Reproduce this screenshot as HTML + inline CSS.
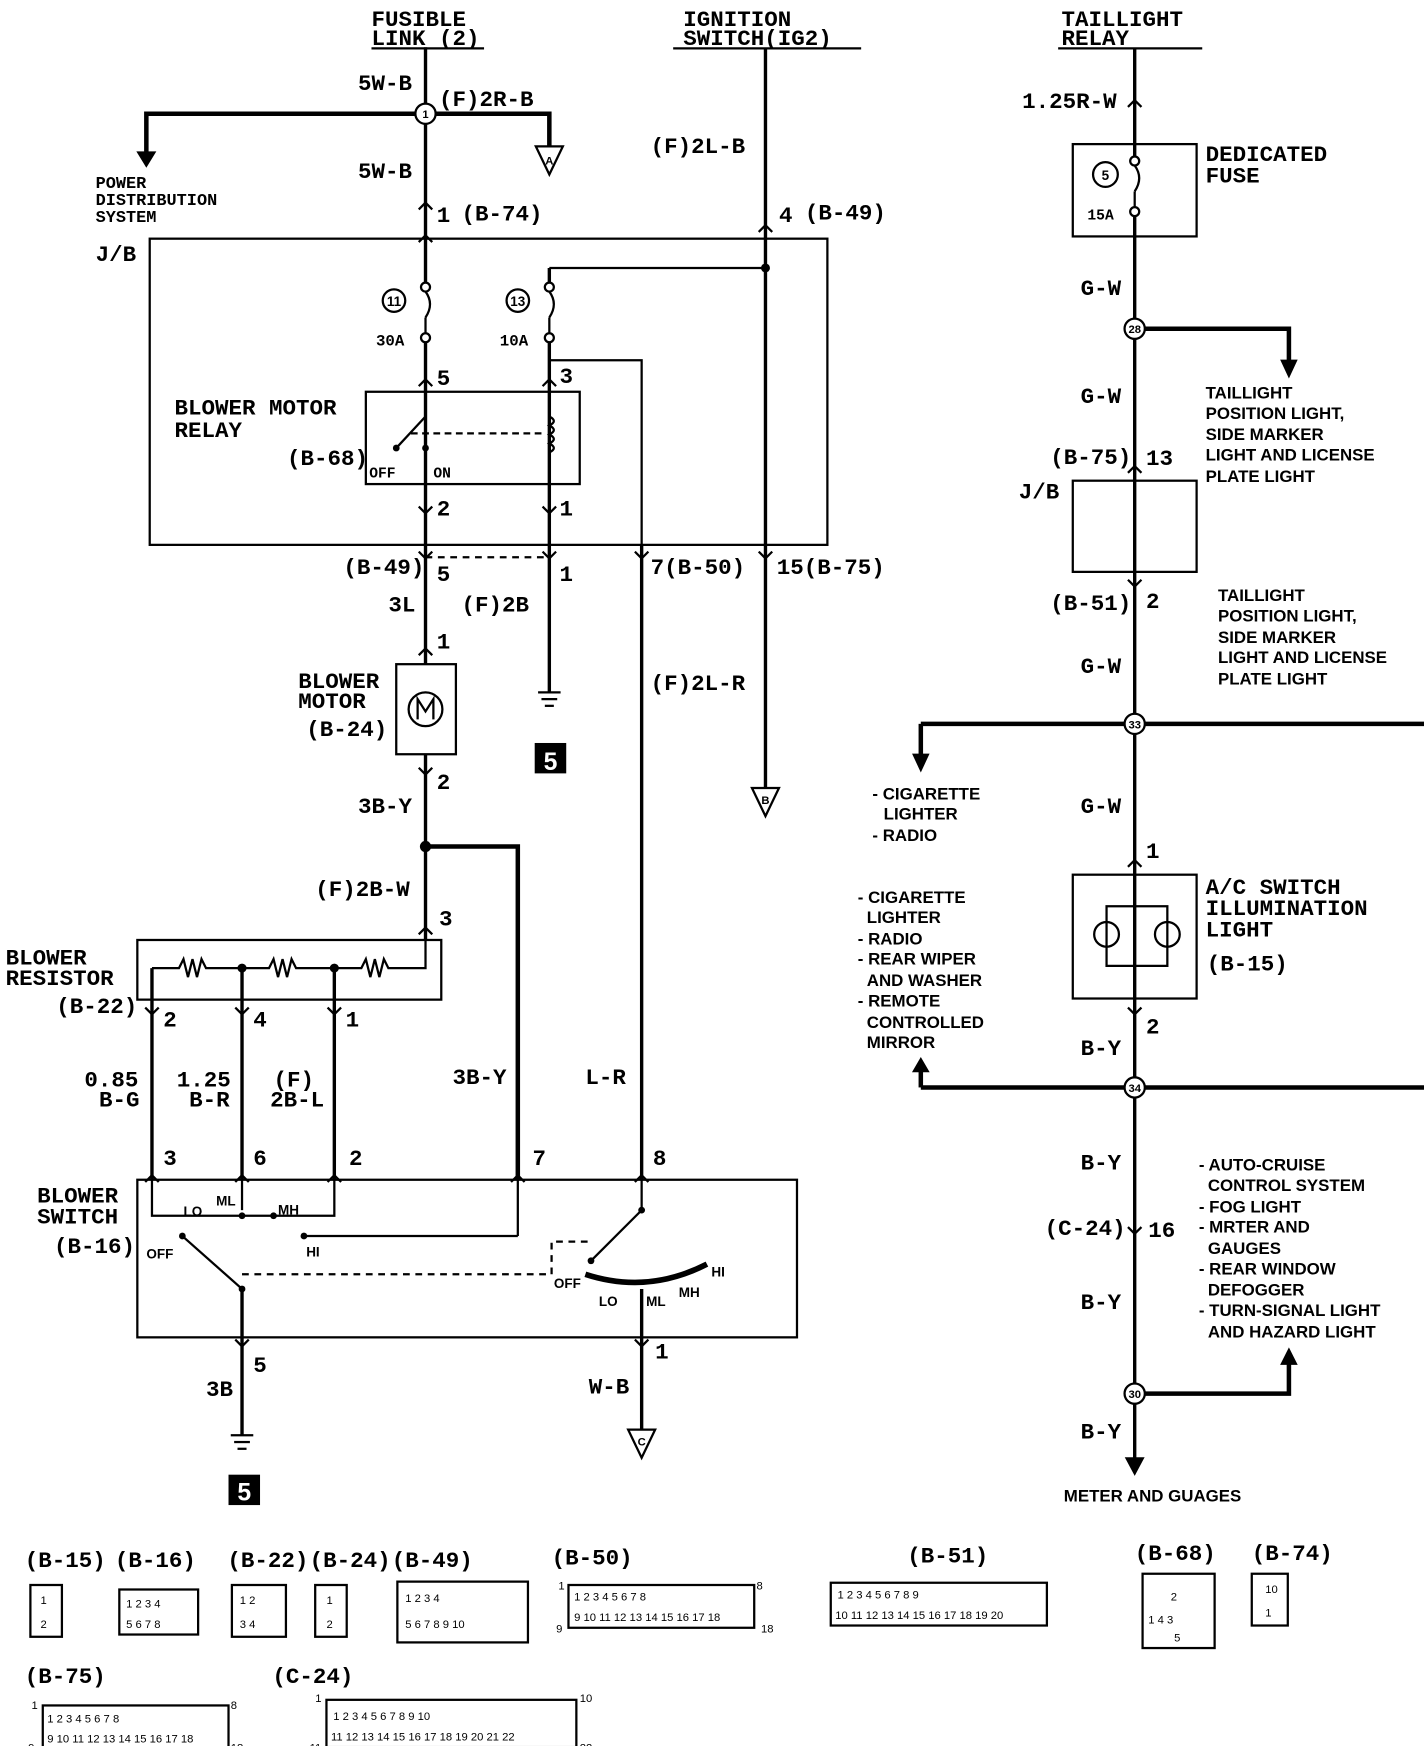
<!DOCTYPE html>
<html><head><meta charset="utf-8"><style>
html,body{margin:0;padding:0;background:#fff}
svg{display:block}
.m{font-family:"Liberation Mono",monospace;font-weight:bold;font-size:20px;fill:#000}
.s{font-family:"Liberation Sans",sans-serif;font-weight:bold;font-size:15px;fill:#000}
.t{font-family:"Liberation Sans",sans-serif;font-weight:bold;font-size:12px;fill:#000}
.c{font-family:"Liberation Sans",sans-serif;font-size:10px;fill:#000}
</style></head><body>
<svg width="1424" height="1746" viewBox="0 0 1265 1551" xmlns="http://www.w3.org/2000/svg">
<g stroke="#000" stroke-width="3" fill="none">
<line x1="378" y1="42" x2="378" y2="590"/>
<line x1="378" y1="670" x2="378" y2="835"/>
<polyline points="130,140 130,101 488,101 488,130" stroke-width="4"/>
<polygon points="122,135 138,135 130,148" fill="#000" stroke-width="1"/>
<polygon points="476,130 500,130 488,155" stroke-width="2"/>
<rect x="133" y="212" width="602" height="272" stroke-width="2"/>
<line x1="488" y1="238" x2="680" y2="238" stroke-width="2"/>
<line x1="488" y1="238" x2="488" y2="615"/>
<polyline points="488,320 570,320 570,1048" stroke-width="2"/>
<line x1="570" y1="484" x2="570" y2="1048"/>
<rect x="325" y="348" width="190" height="82" stroke-width="2"/>
<line x1="378" y1="495" x2="488" y2="495" stroke-dasharray="6,5" stroke-width="2"/>
<line x1="352" y1="398" x2="378" y2="370" stroke-width="2"/>
<line x1="365" y1="385" x2="485" y2="385" stroke-dasharray="6,4" stroke-width="2"/>
<rect x="352" y="590" width="53" height="80" stroke-width="2"/>
<circle cx="378" cy="630" r="15" stroke-width="2"/>
<line x1="478" y1="615" x2="498" y2="615" stroke-width="2"/><line x1="481" y1="621" x2="495" y2="621" stroke-width="2"/><line x1="484" y1="627" x2="492" y2="627" stroke-width="2"/>
<line x1="680" y1="43" x2="680" y2="700"/>
<polygon points="668,700 692,700 680,725" stroke-width="2"/>
<polyline points="378,752 460,752 460,1048" stroke-width="4"/>
<rect x="122" y="835" width="270" height="53" stroke-width="2"/>
<polyline points="378,835 378,860 345,860 341,852 337,868 333,852 329,868 325,852 321,860 297,860 263,860 259,852 255,868 251,852 247,868 243,852 239,860 215,860 183,860 179,852 175,868 171,852 167,868 163,852 159,860 135,860" stroke-width="2"/>
<line x1="135" y1="860" x2="135" y2="1048"/>
<line x1="215" y1="860" x2="215" y2="1048"/>
<line x1="297" y1="860" x2="297" y2="1048"/>
<rect x="122" y="1048" width="586" height="140" stroke-width="2"/>
<polyline points="135,1048 135,1080 297,1080 297,1048" stroke-width="2"/>
<line x1="215" y1="1048" x2="215" y2="1075" stroke-width="2"/>
<line x1="460" y1="1048" x2="460" y2="1098" stroke-width="2"/>
<line x1="270" y1="1098" x2="460" y2="1098" stroke-width="2"/>
<line x1="162" y1="1098" x2="215" y2="1145" stroke-width="2"/>
<line x1="215" y1="1145" x2="215" y2="1275"/>
<line x1="570" y1="1048" x2="570" y2="1075" stroke-width="2"/>
<line x1="525" y1="1120" x2="570" y2="1075" stroke-width="2"/>
<polyline points="215,1132 490,1132 490,1103 525,1103" stroke-dasharray="6,5" stroke-width="2"/>
<path d="M520,1132 Q575,1150 628,1123" stroke-width="5"/>
<line x1="570" y1="1145" x2="570" y2="1270"/>
<polygon points="558,1270 582,1270 570,1295" stroke-width="2"/>
<line x1="205" y1="1275" x2="225" y2="1275" stroke-width="2"/><line x1="208" y1="1281" x2="222" y2="1281" stroke-width="2"/><line x1="211" y1="1287" x2="219" y2="1287" stroke-width="2"/>
<line x1="1008" y1="43" x2="1008" y2="1300"/>
<polygon points="1000,1295 1016,1295 1008,1310" fill="#000" stroke-width="1"/>
<rect x="953" y="128" width="110" height="82" stroke-width="2"/>
<polyline points="1008,292 1145,292 1145,322" stroke-width="4"/>
<polygon points="1138,320 1152,320 1145,335" fill="#000" stroke-width="1"/>
<rect x="953" y="427" width="110" height="81" stroke-width="2"/>
<line x1="818" y1="643" x2="1265" y2="643" stroke-width="4"/>
<line x1="818" y1="643" x2="818" y2="672" stroke-width="4"/>
<polygon points="811,670 825,670 818,685" fill="#000" stroke-width="1"/>
<rect x="953" y="777" width="110" height="110" stroke-width="2"/>
<polyline points="1008,805 983,805 983,858 1037,858 1037,805 1008,805" stroke-width="2"/>
<circle cx="983" cy="830" r="11" stroke-width="2"/><circle cx="1037" cy="830" r="11" stroke-width="2"/>
<line x1="818" y1="966" x2="1265" y2="966" stroke-width="4"/>
<line x1="818" y1="966" x2="818" y2="950" stroke-width="4"/>
<polygon points="811,952 825,952 818,940" fill="#000" stroke-width="1"/>
<polyline points="1008,1238 1145,1238 1145,1210" stroke-width="4"/>
<polygon points="1138,1212 1152,1212 1145,1198" fill="#000" stroke-width="1"/>
<line x1="330" y1="43" x2="430" y2="43" stroke-width="2"/>
<line x1="598" y1="43" x2="765" y2="43" stroke-width="2"/>
<line x1="940" y1="43" x2="1068" y2="43" stroke-width="2"/>
<path d="M367,625 L367,613 L378,628 L389,613 L389,637" stroke-width="0"/>
</g>
<!-- chevrons -->
<g stroke="#000" stroke-width="2" fill="none">
<path d="M372,186 l6,-6 l6,6 M372,215 l6,-6 l6,6 M372,343 l6,-6 l6,6 M482,343 l6,-6 l6,6 M674,206 l6,-6 l6,6 M372,450 l6,6 l6,-6 M482,450 l6,6 l6,-6 M372,490 l6,6 l6,-6 M482,490 l6,6 l6,-6 M564,490 l6,6 l6,-6 M674,490 l6,6 l6,-6 M372,582 l6,-6 l6,6 M372,682 l6,6 l6,-6 M372,830 l6,-6 l6,6 M129,895 l6,6 l6,-6 M209,895 l6,6 l6,-6 M291,895 l6,6 l6,-6 M129,1050 l6,-6 l6,6 M209,1050 l6,-6 l6,6 M291,1050 l6,-6 l6,6 M454,1050 l6,-6 l6,6 M564,1050 l6,-6 l6,6 M209,1190 l6,6 l6,-6 M564,1190 l6,6 l6,-6 M1002,420 l6,-6 l6,6 M1002,515 l6,6 l6,-6 M1002,770 l6,-6 l6,6 M1002,895 l6,6 l6,-6 M1002,1090 l6,6 l6,-6 M1002,95 l6,-6 l6,6"/>
</g>
<g stroke="#fff" stroke-width="7"><line x1="378" y1="255" x2="378" y2="300"/><line x1="488" y1="255" x2="488" y2="300"/><line x1="1008" y1="143" x2="1008" y2="188"/></g>
<g stroke="#000" stroke-width="2" fill="none">
<circle cx="378" cy="255" r="4" fill="#fff"/><path d="M378,259 Q386,270 378,282"/><circle cx="378" cy="300" r="4" fill="#fff"/><line x1="378" y1="282" x2="378" y2="296"/>
<circle cx="488" cy="255" r="4" fill="#fff"/><path d="M488,259 Q496,270 488,282"/><circle cx="488" cy="300" r="4" fill="#fff"/><line x1="488" y1="282" x2="488" y2="296"/>
<circle cx="1008" cy="143" r="4" fill="#fff"/><path d="M1008,147 Q1016,158 1008,170"/><circle cx="1008" cy="188" r="4" fill="#fff"/><line x1="1008" y1="170" x2="1008" y2="184"/>
<circle cx="350" cy="267" r="10"/><circle cx="460" cy="267" r="10"/><circle cx="982" cy="155" r="11"/>
<path d="M488,370 q8,4 0,8 q8,4 0,8 q8,4 0,8 q8,4 0,8"/>
<path d="M371,639 L371,621 L378,632 L385,621 L385,639"/>
</g>
<g fill="#fff" stroke="#000" stroke-width="2">
<circle cx="378" cy="101" r="9"/><circle cx="1008" cy="292" r="9"/><circle cx="1008" cy="643" r="9"/><circle cx="1008" cy="966" r="9"/><circle cx="1008" cy="1238" r="9"/>
</g>
<g fill="#000"><circle cx="680" cy="238" r="4"/><circle cx="378" cy="752" r="5"/><circle cx="215" cy="860" r="4"/><circle cx="297" cy="860" r="4"/>
<circle cx="162" cy="1098" r="3"/><circle cx="215" cy="1145" r="3"/><circle cx="270" cy="1098" r="3"/><circle cx="215" cy="1080" r="3"/><circle cx="243" cy="1080" r="3"/><circle cx="570" cy="1075" r="3"/><circle cx="525" cy="1120" r="3"/><circle cx="378" cy="398" r="3"/><circle cx="352" cy="398" r="3"/>
<rect x="475" y="660" width="28" height="27"/><rect x="203" y="1310" width="28" height="27"/></g>
<g class="t" text-anchor="middle"><text x="378" y="105" style="font-size:10px">1</text><text x="1008" y="296" style="font-size:10px">28</text><text x="1008" y="647" style="font-size:10px">33</text><text x="1008" y="970" style="font-size:10px">34</text><text x="1008" y="1242" style="font-size:10px">30</text>
<text x="350" y="272">11</text><text x="460" y="272">13</text><text x="982" y="160">5</text>
<text x="489" y="684" style="fill:#fff;font-size:22px">5</text><text x="217" y="1333" style="fill:#fff;font-size:22px">5</text>
<text x="488" y="146" style="font-size:10px">A</text><text x="680" y="714" style="font-size:10px">B</text><text x="570" y="1284" style="font-size:10px">C</text></g>
<g class="m">
<text x="330" y="23">FUSIBLE</text><text x="330" y="40">LINK (2)</text>
<text x="607" y="23">IGNITION</text><text x="607" y="40">SWITCH(IG2)</text>
<text x="943" y="23">TAILLIGHT</text><text x="943" y="40">RELAY</text>
<text x="318" y="80">5W-B</text><text x="390" y="94">(F)2R-B</text><text x="318" y="158">5W-B</text>
<text x="388" y="197">1</text><text x="410" y="196">(B-74)</text>
<text x="578" y="136">(F)2L-B</text><text x="692" y="197">4</text><text x="715" y="195">(B-49)</text>
<text x="85" y="232">J/B</text>
<text x="334" y="307" style="font-size:14px">30A</text><text x="444" y="307" style="font-size:14px">10A</text>
<text x="388" y="342">5</text><text x="497" y="340">3</text>
<text x="155" y="368">BLOWER MOTOR</text><text x="155" y="388">RELAY</text><text x="255" y="413">(B-68)</text>
<text x="328" y="424" style="font-size:13px">OFF</text><text x="385" y="424" style="font-size:13px">ON</text>
<text x="388" y="458">2</text><text x="497" y="458">1</text>
<text x="305" y="510">(B-49)</text><text x="388" y="516">5</text><text x="497" y="516">1</text>
<text x="578" y="510">7(B-50)</text><text x="690" y="510">15(B-75)</text>
<text x="345" y="543">3L</text><text x="410" y="543">(F)2B</text><text x="388" y="576">1</text>
<text x="265" y="611">BLOWER</text><text x="265" y="629">MOTOR</text><text x="272" y="654">(B-24)</text>
<text x="578" y="613">(F)2L-R</text>
<text x="388" y="701">2</text><text x="318" y="722">3B-Y</text>
<text x="280" y="796">(F)2B-W</text><text x="390" y="822">3</text>
<text x="5" y="857">BLOWER</text><text x="5" y="875">RESISTOR</text><text x="50" y="900">(B-22)</text>
<text x="145" y="912">2</text><text x="225" y="912">4</text><text x="307" y="912">1</text>
<text x="75" y="965">0.85</text><text x="88" y="983">B-G</text><text x="157" y="965">1.25</text><text x="168" y="983">B-R</text><text x="243" y="965">(F)</text><text x="240" y="983">2B-L</text>
<text x="402" y="963">3B-Y</text><text x="520" y="963">L-R</text>
<text x="145" y="1035">3</text><text x="225" y="1035">6</text><text x="310" y="1035">2</text><text x="473" y="1035">7</text><text x="580" y="1035">8</text>
<text x="33" y="1068">BLOWER</text><text x="33" y="1087">SWITCH</text><text x="48" y="1113">(B-16)</text>
<text x="225" y="1219">5</text><text x="183" y="1240">3B</text><text x="582" y="1207">1</text><text x="523" y="1238">W-B</text>
<text x="908" y="96">1.25R-W</text>
<text x="1071" y="143">DEDICATED</text><text x="1071" y="162">FUSE</text>
<text x="966" y="195" style="font-size:13px">15A</text>
<text x="960" y="262">G-W</text><text x="960" y="358">G-W</text>
<text x="933" y="412">(B-75)</text><text x="1018" y="413">13</text><text x="905" y="443">J/B</text>
<text x="933" y="542">(B-51)</text><text x="1018" y="540">2</text><text x="960" y="598">G-W</text><text x="960" y="722">G-W</text>
<text x="1018" y="762">1</text>
<text x="1071" y="794">A/C SWITCH</text><text x="1071" y="813">ILLUMINATION</text><text x="1071" y="832">LIGHT</text><text x="1072" y="862">(B-15)</text>
<text x="1018" y="918">2</text><text x="960" y="937">B-Y</text><text x="960" y="1039">B-Y</text>
<text x="928" y="1097">(C-24)</text><text x="1020" y="1099">16</text><text x="960" y="1163">B-Y</text><text x="960" y="1278">B-Y</text>
</g>
<g class="t">
<text x="163" y="1080">LO</text><text x="192" y="1071">ML</text><text x="247" y="1079">MH</text><text x="272" y="1116">HI</text><text x="130" y="1118">OFF</text>
<text x="492" y="1144">OFF</text><text x="532" y="1160">LO</text><text x="574" y="1160">ML</text><text x="603" y="1152">MH</text><text x="632" y="1134">HI</text>
</g>
<g class="s">
<text x="85" y="167" style="font-family:'Liberation Mono';font-size:15px">POWER</text><text x="85" y="182" style="font-family:'Liberation Mono';font-size:15px">DISTRIBUTION</text><text x="85" y="197" style="font-family:'Liberation Mono';font-size:15px">SYSTEM</text>
<text x="1071" y="354">TAILLIGHT</text><text x="1071" y="372">POSITION LIGHT,</text><text x="1071" y="391">SIDE MARKER</text><text x="1071" y="409">LIGHT AND LICENSE</text><text x="1071" y="428">PLATE LIGHT</text>
<text x="1082" y="534">TAILLIGHT</text><text x="1082" y="552">POSITION LIGHT,</text><text x="1082" y="571">SIDE MARKER</text><text x="1082" y="589">LIGHT AND LICENSE</text><text x="1082" y="608">PLATE LIGHT</text>
<text x="775" y="710">- CIGARETTE</text><text x="785" y="728">LIGHTER</text><text x="775" y="747">- RADIO</text>
<text x="762" y="802">- CIGARETTE</text><text x="770" y="820">LIGHTER</text><text x="762" y="839">- RADIO</text><text x="762" y="857">- REAR WIPER</text><text x="770" y="876">AND WASHER</text><text x="762" y="894">- REMOTE</text><text x="770" y="913">CONTROLLED</text><text x="770" y="931">MIRROR</text>
<text x="1065" y="1040">- AUTO-CRUISE</text><text x="1073" y="1058">CONTROL SYSTEM</text><text x="1065" y="1077">- FOG LIGHT</text><text x="1065" y="1095">- MRTER AND</text><text x="1073" y="1114">GAUGES</text><text x="1065" y="1132">- REAR WINDOW</text><text x="1073" y="1151">DEFOGGER</text><text x="1065" y="1169">- TURN-SIGNAL LIGHT</text><text x="1073" y="1188">AND HAZARD LIGHT</text>
<text x="945" y="1334">METER AND GUAGES</text>
</g>
<g class="m">
<text x="22" y="1392">(B-15)</text><text x="102" y="1392">(B-16)</text><text x="202" y="1392">(B-22)</text><text x="275" y="1392">(B-24)</text><text x="348" y="1392">(B-49)</text><text x="490" y="1390">(B-50)</text><text x="806" y="1388">(B-51)</text><text x="1008" y="1386">(B-68)</text><text x="1112" y="1386">(B-74)</text>
<text x="22" y="1495">(B-75)</text><text x="242" y="1495">(C-24)</text>
</g>
<g stroke="#000" stroke-width="2" fill="none">
<rect x="27" y="1408" width="28" height="46"/><rect x="106" y="1412" width="70" height="40"/><rect x="206" y="1408" width="48" height="46"/><rect x="280" y="1408" width="28" height="46"/>
<rect x="353" y="1405" width="116" height="54"/><rect x="505" y="1408" width="165" height="38"/><rect x="738" y="1406" width="192" height="38"/>
<rect x="1015" y="1398" width="64" height="66"/><rect x="1112" y="1398" width="32" height="46"/>
<rect x="38" y="1515" width="165" height="38"/><rect x="290" y="1510" width="222" height="42"/>
</g>
<g class="c">
<text x="36" y="1425">1</text><text x="36" y="1446">2</text>
<text x="112" y="1428">1 2 3 4</text><text x="112" y="1446">5 6 7 8</text>
<text x="213" y="1425">1  2</text><text x="213" y="1446">3  4</text><text x="290" y="1425">1</text><text x="290" y="1446">2</text>
<text x="360" y="1423">1  2       3  4</text><text x="360" y="1446">5  6  7  8  9  10</text>
<text x="496" y="1412">1</text><text x="672" y="1412">8</text><text x="494" y="1450">9</text><text x="676" y="1450">18</text>
<text x="510" y="1422">1 2 3 4   5 6 7 8</text><text x="510" y="1440">9 10 11 12 13 14 15 16 17 18</text>
<text x="744" y="1420">1 2 3 4    5 6 7 8 9</text><text x="742" y="1438">10 11 12 13 14 15 16 17 18 19 20</text>
<text x="1040" y="1422">2</text><text x="1020" y="1442">1  4  3</text><text x="1043" y="1458">5</text><text x="1124" y="1415">10</text><text x="1124" y="1436">1</text>
<text x="28" y="1518">1</text><text x="205" y="1518">8</text><text x="25" y="1556">9</text><text x="205" y="1556">18</text>
<text x="42" y="1530">1 2 3 4   5 6 7 8</text><text x="42" y="1548">9 10 11 12 13 14 15 16 17 18</text>
<text x="280" y="1512">1</text><text x="515" y="1512">10</text><text x="275" y="1556">11</text><text x="515" y="1556">22</text>
<text x="296" y="1528">1 2 3 4 5    6 7 8 9 10</text><text x="294" y="1546">11 12 13 14 15 16 17 18 19 20 21 22</text>
</g>
</svg>
</body></html>
